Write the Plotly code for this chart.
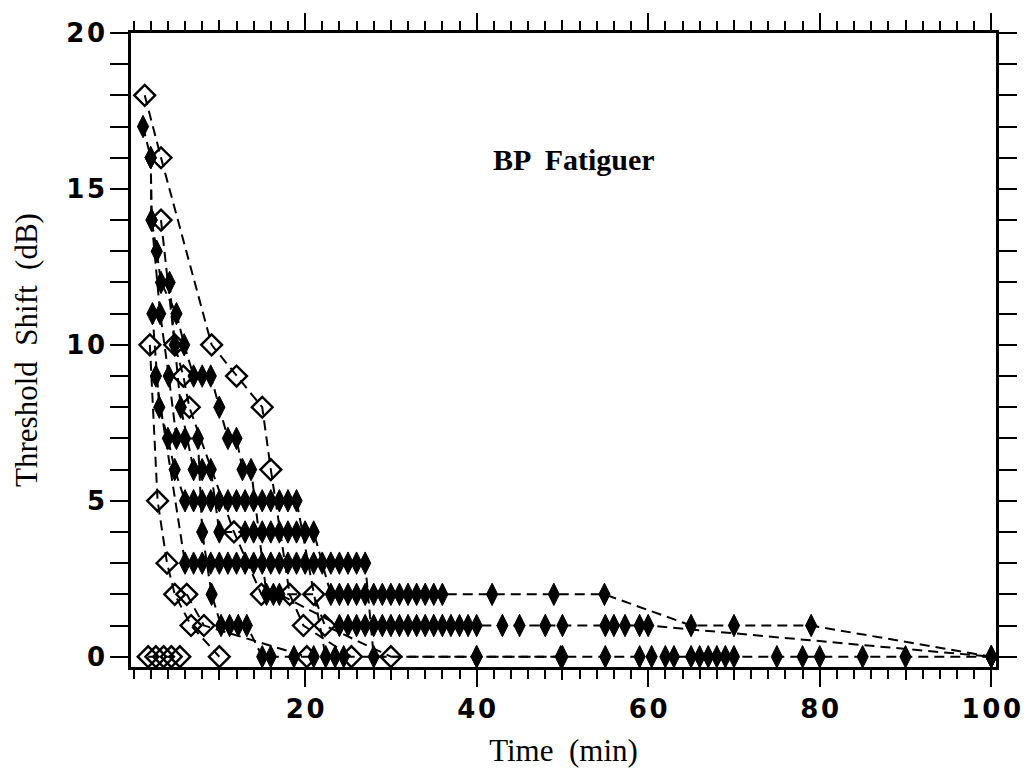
import plotly.graph_objects as go

# ---------------- data ----------------
# open-diamond recovery runs
O1_t = [1.3, 3.2, 9.1, 12.0, 15.0, 16.0, 18.2, 19.8, 25.4]
O1_v = [18, 16, 10, 9, 8, 6, 2, 1, 0]
O2_t = [3.2, 4.8, 5.8, 6.5, 11.7, 14.9, 21.0, 22.3, 30.0]
O2_v = [14, 10, 9, 8, 4, 2, 2, 1, 0]
O3_t = [1.9, 2.8, 3.9, 4.8, 6.7, 10.0]
O3_v = [10, 5, 3, 2, 1, 0]
O4_t = [6.2, 8.2, 20.2]
O4_v = [2, 1, 0]
O5_t = [1.7, 2.6, 3.5, 4.4, 5.4]
O5_v = [0, 0, 0, 0, 0]

# filled-diamond recovery runs
A_t = [1.1, 2.0, 2.1, 2.7, 3.2, 5.0, 5.9, 7, 8, 9, 10, 11, 12, 12.7, 13.7, 15.5, 16.3, 17,
       24, 25, 26, 27, 28, 29, 30, 31, 32, 33, 34, 35, 36, 37, 38, 39, 40,
       43, 45, 48, 50, 55, 56, 57.3, 59, 60, 100]
A_v = [17, 16, 14, 13, 12, 11, 10, 9, 9, 9, 8, 7, 7, 6, 6, 2, 2, 2,
       1, 1, 1, 1, 1, 1, 1, 1, 1, 1, 1, 1, 1, 1, 1, 1, 1,
       1, 1, 1, 1, 1, 1, 1, 1, 1, 0]
B_t = [2.0, 2.1, 3.1, 4.1, 5.0, 6.0, 7.5, 8.0, 9.1, 10.2, 11.2, 12.2, 13.2, 15, 16, 18.7, 21]
B_v = [16, 14, 11, 9, 7, 7, 7, 4, 2, 1, 1, 1, 1, 0, 0, 0, 0]
C_t = [2.2, 3.0, 4.0, 4.8, 6, 7, 8, 9, 10, 11, 12, 13, 14, 15, 16, 17, 18, 19,
       22.4, 23.5, 24.5, 40, 49.8]
C_v = [11, 8, 7, 6, 5, 5, 5, 5, 5, 5, 5, 5, 5, 5, 5, 5, 5, 5,
       0, 0, 0, 0, 0]
D_t = [4.2, 4.8, 5.5, 7, 8, 9, 10, 13, 14, 15, 16, 17, 18, 19, 20, 21,
       23, 24, 25, 26, 27, 28, 29, 30, 31, 32, 33, 34, 35, 36,
       41.8, 49, 54.9, 65, 70, 79, 100]
D_v = [12, 10, 8, 6, 6, 6, 4, 4, 4, 4, 4, 4, 4, 4, 4, 4,
       2, 2, 2, 2, 2, 2, 2, 2, 2, 2, 2, 2, 2, 2,
       2, 2, 2, 1, 1, 1, 0]
E_t = [2.6, 6, 7, 8, 9, 10, 11, 12, 13, 14, 15, 16, 17, 18, 19, 20, 21, 22, 23, 24, 25, 26, 27,
       28, 40, 50, 55, 59, 60.4, 62, 63, 65, 66, 67, 68, 69, 70, 75, 78, 80, 85, 90, 100]
E_v = [9, 3, 3, 3, 3, 3, 3, 3, 3, 3, 3, 3, 3, 3, 3, 3, 3, 3, 3, 3, 3, 3, 3,
       0, 0, 0, 0, 0, 0, 0, 0, 0, 0, 0, 0, 0, 0, 0, 0, 0, 0, 0, 0]

x_ticks = [20, 40, 60, 80, 100]
x_tick_labels = ["20", "40", "60", "80", "100"]
x_mid_ticks = [10, 30, 50, 70, 90]
y_ticks = [0, 5, 10, 15, 20]
y_tick_labels = ["0", "5", "10", "15", "20"]

open_runs = [(O1_t, O1_v), (O2_t, O2_v), (O3_t, O3_v), (O4_t, O4_v), (O5_t, O5_v)]
filled_runs = [(A_t, A_v), (B_t, B_v), (C_t, C_v), (D_t, D_v), (E_t, E_v)]


def spaced(s):
    # slight letter spacing as in the original typeset labels
    return "\u200a".join(s)


DASH = "10px,6px"
fig = go.Figure()

for t, v in filled_runs:
    fig.add_trace(go.Scatter(
        x=t, y=v, mode="lines+markers",
        line=dict(color="black", width=2, dash=DASH),
        marker=dict(symbol="diamond-tall", size=16, color="black",
                    line=dict(color="black", width=1)),
        showlegend=False, hoverinfo="skip"))

for t, v in open_runs:
    fig.add_trace(go.Scatter(
        x=t, y=v, mode="lines+markers",
        line=dict(color="black", width=2, dash=DASH),
        marker=dict(symbol="diamond-open", size=16, color="black",
                    line=dict(color="black", width=2.4)),
        showlegend=False, hoverinfo="skip"))

# overlay axis used only for the mid-length ticks at 10, 30, ...
fig.add_trace(go.Scatter(x=[None], y=[None], xaxis="x2", yaxis="y", showlegend=False))

tick_font = dict(family="DejaVu Sans, Liberation Sans, sans-serif", size=26, color="black", weight="bold")
title_font = dict(family="Liberation Serif, Times New Roman, serif", size=31, color="black")

XR = [-0.3, 100.55]
YR = [-0.33, 20]

fig.update_layout(
    width=1033, height=778,
    margin=dict(l=131, r=25, t=33, b=111),
    paper_bgcolor="white", plot_bgcolor="white",
    xaxis=dict(
        range=XR, tickvals=x_ticks, ticktext=[spaced(s) for s in x_tick_labels],
        ticks="outside", ticklen=17, tickwidth=2.2, tickcolor="black",
        showline=True, linewidth=2.6, linecolor="black", mirror="allticks",
        showgrid=False, zeroline=False, tickfont=tick_font,
        minor=dict(dtick=2, tick0=0, ticks="outside", ticklen=9, tickwidth=2, tickcolor="black", showgrid=False),
        title=dict(text="Time  (min)", font=title_font, standoff=17),
    ),
    xaxis2=dict(
        range=XR, overlaying="x", side="bottom", tickvals=x_mid_ticks, showticklabels=False,
        ticks="outside", ticklen=12, tickwidth=2, tickcolor="black", mirror="allticks",
        showline=False, showgrid=False, zeroline=False,
    ),
    yaxis=dict(
        range=YR, tickvals=y_ticks, ticktext=[spaced(s) for s in y_tick_labels],
        ticks="outside", ticklen=18, tickwidth=2.2, tickcolor="black",
        showline=True, linewidth=2.6, linecolor="black", mirror="allticks",
        showgrid=False, zeroline=False, tickfont=tick_font,
        minor=dict(dtick=1, tick0=0, ticks="outside", ticklen=9, tickwidth=2, tickcolor="black", showgrid=False),
        title=dict(text="Threshold  Shift  (dB)", font=title_font, standoff=20),
    ),
    annotations=[dict(
        text="BP  Fatiguer", xref="paper", yref="paper", x=0.512, y=0.80,
        showarrow=False, xanchor="center", yanchor="middle",
        font=dict(family="Liberation Serif, Times New Roman, serif", size=30, color="black", weight="bold"),
    )],
)

fig.write_html("out.html")
